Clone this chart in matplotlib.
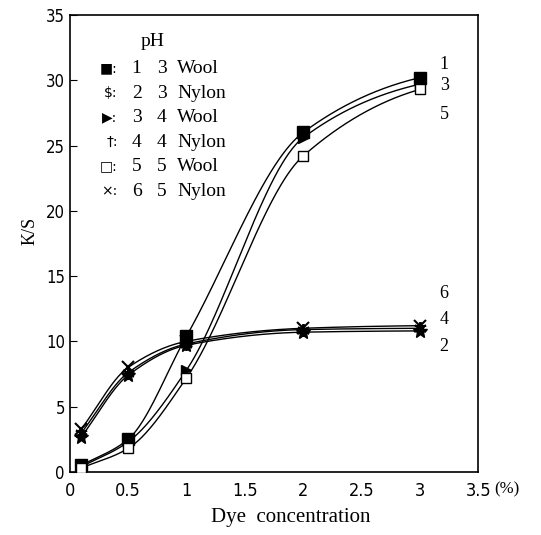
import numpy as np
import matplotlib.pyplot as plt

# dye concentration (%) and K/S values for each dyeing
conc = np.array([0.1, 0.5, 1.0, 2.0, 3.0])
ks_1 = np.array([0.5, 2.5, 10.4, 26.0, 30.2])   # pH 3 wool
ks_2 = np.array([2.7, 7.4, 9.7, 10.7, 10.8])    # pH 3 nylon
ks_3 = np.array([0.4, 2.3, 7.8, 25.6, 29.7])    # pH 4 wool
ks_4 = np.array([3.0, 7.6, 9.8, 10.9, 11.0])    # pH 4 nylon
ks_5 = np.array([0.3, 1.8, 7.2, 24.2, 29.3])    # pH 5 wool
ks_6 = np.array([3.3, 8.0, 10.0, 11.0, 11.2])   # pH 5 nylon

curve_no = ["1", "2", "3", "4", "5", "6"]
curve_ph = ["3", "3", "4", "4", "5", "5"]
curve_fibre = ["Wool", "Nylon", "Wool", "Nylon", "Wool", "Nylon"]
legend_syms = ["■:", r"\$:", "▶:", "†:", "□:", "×:"]
xtick_vals = [0, 0.5, 1, 1.5, 2, 2.5, 3, 3.5]
xtick_text = ["0", "0.5", "1", "1.5", "2", "2.5", "3", "3.5"]


def pchip(x, y, xs):
    # monotone cubic interpolation, keeps curves from overshooting
    h = np.diff(x)
    d = np.diff(y) / h
    m = np.zeros_like(y)
    for k in range(1, len(x) - 1):
        if d[k - 1] * d[k] > 0:
            w1 = 2 * h[k] + h[k - 1]
            w2 = h[k] + 2 * h[k - 1]
            m[k] = (w1 + w2) / (w1 / d[k - 1] + w2 / d[k])
    m[0] = d[0]
    m[-1] = d[-1] * 0.5
    idx = np.clip(np.searchsorted(x, xs) - 1, 0, len(x) - 2)
    t = (xs - x[idx]) / h[idx]
    h00 = 2 * t**3 - 3 * t**2 + 1
    h10 = t**3 - 2 * t**2 + t
    h01 = -2 * t**3 + 3 * t**2
    h11 = t**3 - t**2
    return (h00 * y[idx] + h10 * h[idx] * m[idx]
            + h01 * y[idx + 1] + h11 * h[idx] * m[idx + 1])


serif = ['Liberation Serif', 'DejaVu Serif']
fig = plt.figure(figsize=(5.41, 5.35), dpi=100)
ax = fig.add_axes([0.129, 0.118, 0.755, 0.854])

series = [
    (ks_1, dict(marker='s', mfc='black', ms=8)),
    (ks_2, dict(marker='*', mfc='black', ms=10)),
    (ks_3, dict(marker='>', mfc='black', ms=7)),
    (ks_4, dict(marker=(6, 2, 0), mfc='black', ms=9, mew=1.5)),
    (ks_5, dict(marker='s', mfc='white', ms=7)),
    (ks_6, dict(marker='x', mfc='black', ms=8, mew=1.5)),
]
xs = np.linspace(conc[0] - 0.02, conc[-1] + 0.03, 300)
for ks, style in series:
    ax.plot(xs, pchip(conc, ks, xs), color='black', lw=1.0, zorder=2)
    ax.plot(conc, ks, ls='none', mec='black', zorder=3, **style)

ax.set_xlim(0, 3.5)
ax.set_ylim(0, 35)
ax.set_yticks(range(0, 36, 5))
ax.set_xticks(xtick_vals)
ax.set_xticklabels(xtick_text)
ax.tick_params(axis='y', direction='in', length=5, labelsize=12)
ax.tick_params(axis='x', length=0, labelsize=13, pad=7)
for lab in ax.get_xticklabels() + ax.get_yticklabels():
    lab.set_fontstretch('condensed')
for sp in ax.spines.values():
    sp.set_linewidth(1.2)

# curve numbers at the right ends
for num, yv in [("1", 31.2), ("3", 29.6), ("5", 27.4),
                ("6", 13.7), ("4", 11.7), ("2", 9.6)]:
    ax.text(3.17, yv, num, family=serif, fontsize=13, va='center')

# key in the upper left corner
ax.text(0.71, 33.0, "pH", family=serif, fontsize=14, ha='center', va='center')
for i in range(len(curve_no)):
    yv = 30.9 - i * 1.88
    ax.text(0.41, yv, legend_syms[i], family=['DejaVu Sans'], fontsize=10,
            ha='right', va='center')
    ax.text(0.53, yv, curve_no[i], family=serif, fontsize=14, va='center')
    ax.text(0.745, yv, curve_ph[i], family=serif, fontsize=14, va='center')
    ax.text(0.92, yv, curve_fibre[i], family=serif, fontsize=14, va='center')

fig.text(0.937, 0.078, "(%)", family=serif, fontsize=12, ha='center')
fig.text(0.538, 0.024, "Dye  concentration", family=serif, fontsize=15, ha='center')
fig.text(0.04, 0.568, "K/S", family=serif, fontsize=13, rotation=90, va='center')

fig.savefig('out.png', dpi=100)
